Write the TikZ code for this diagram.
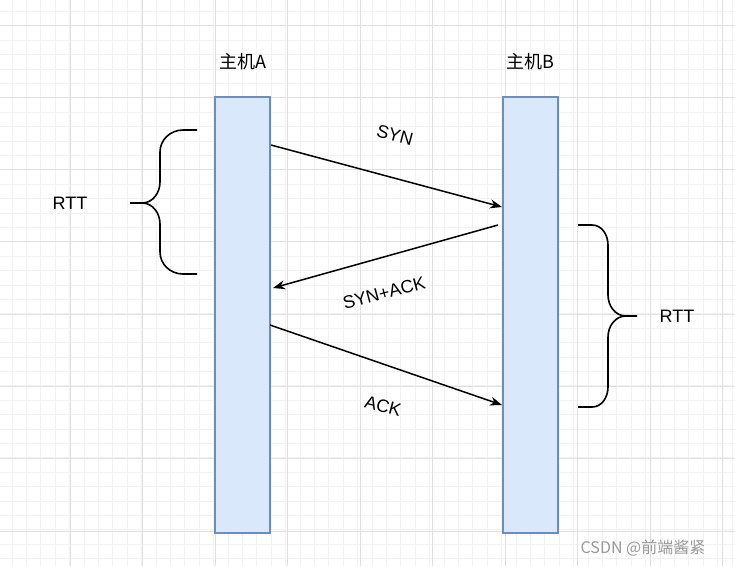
\documentclass[tikz,border=0pt]{standalone}
\usepackage{fontspec}
\setmainfont{Liberation Sans}
\newfontfamily\cjk{Noto Sans CJK SC}
\definecolor{BarFill}{HTML}{DAE8FC}
\definecolor{BarLine}{HTML}{6C8EBF}
\usetikzlibrary{arrows.meta,positioning}
\begin{document}
\begin{tikzpicture}[
  x=1pt, y=-1pt,
  bar/.style={
    rectangle, draw=BarLine, fill=BarFill, line width=1.5pt,
    minimum width=55pt, minimum height=436pt, inner sep=0pt
  },
  host/.style={font=\cjk\fontsize{18}{20}\selectfont},
  msg/.style={font=\fontsize{18}{20}\selectfont, inner sep=1pt},
  arr/.style={-{Stealth[length=12pt,width=9pt]}, line width=1.5pt},
  brace/.style={line width=1.6pt}
]
  \fill[white] (0,0) rectangle (735,566);
  \useasboundingbox (0,0) rectangle (735,566);
  % grid
  \foreach \i in {-5,...,52} {
    \draw[black!5, line width=0.6pt] (-2.5+\i*14.4,0) -- (-2.5+\i*14.4,566);
    \draw[black!5, line width=0.6pt] (0,11.2+\i*14.4) -- (735,11.2+\i*14.4);
  }
  \foreach \i in {0,...,10} {
    \draw[black!12, line width=1pt] (-2.5+\i*72.5,0) -- (-2.5+\i*72.5,566);
    \draw[black!12, line width=1pt] (0,25+\i*72.3) -- (735,25+\i*72.3);
  }

  \node[bar] (hostA) at (242.5,315) {};
  \node[bar] (hostB) at (530.5,315) {};
  \node[host] (labA) at (243,62) {主机A};
  \node[host] (labB) at (530,62) {主机B};

  % handshake
  \coordinate (s1) at (271,145);
  \coordinate (e1) at (502,207);
  \coordinate (s2) at (498,225);
  \coordinate (e2) at (273,288);
  \coordinate (s3) at (270,325);
  \coordinate (e3) at (502,405);
  \draw[arr] (s1) -- (e1);
  \draw[arr] (s2) -- (e2);
  \draw[arr] (s3) -- (e3);
  \node[msg, rotate=-15] (syn) at (395,135) {SYN};
  \node[msg, rotate=15] (synack) at (384,293) {SYN+ACK};
  \node[msg, rotate=-15] (ack) at (383,406) {ACK};

  % RTT braces
  \draw[brace] (197,130) -- (183,130) to[out=180,in=90] (160,152) -- (160,182)
    to[out=-90,in=0] (142,203) -- (130,203);
  \draw[brace] (197,274) -- (183,274) to[out=180,in=-90] (160,252) -- (160,224)
    to[out=90,in=0] (142,203);
  \node[msg] (rttA) at (70,203) {RTT};

  \draw[brace] (578,225) -- (592,225) to[out=0,in=90] (608,245) -- (608,295)
    to[out=-90,in=180] (626,316) -- (637,316);
  \draw[brace] (578,407) -- (592,407) to[out=0,in=-90] (608,387) -- (608,337)
    to[out=90,in=180] (626,316);
  \node[msg] (rttB) at (677,316) {RTT};

  \node[font=\cjk\fontsize{16}{18}\selectfont, text=black!40] (mark) at (643,548) {CSDN @前端酱紧};
\end{tikzpicture}
\end{document}
